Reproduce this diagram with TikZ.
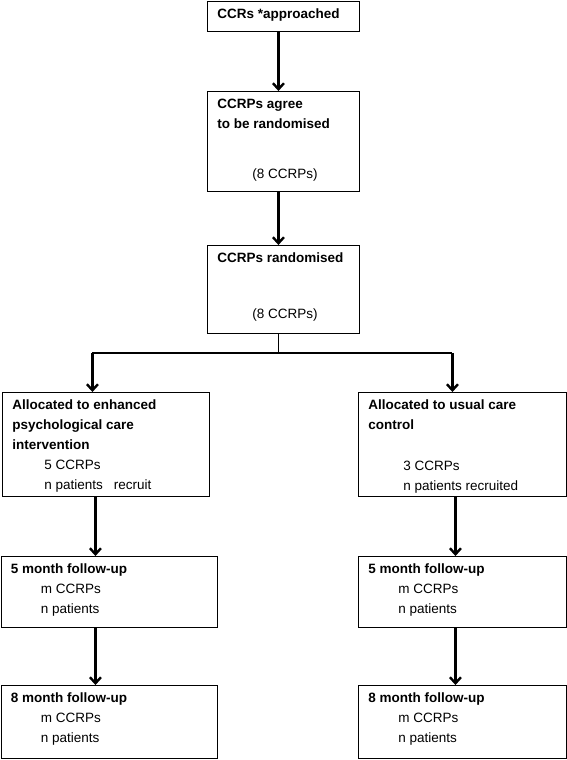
\documentclass[tikz,border=0pt]{standalone}
\usepackage{fontspec}
\setmainfont{Liberation Sans}
\usetikzlibrary{arrows.meta}
% box text: width, height, content (top aligned)
\newcommand{\boxtext}[3]{%
  \parbox[c][#2][t]{\dimexpr#1-20pt\relax}{\raggedright\rule{0pt}{17pt}#3}}
\tikzset{
  flowbox/.style={
    draw,
    line width=0.9pt,
    anchor=north west,
    inner xsep=10pt,
    inner ysep=0pt,
    font=\fontsize{13.5}{20}\selectfont
  },
  flowarrow/.style={-{Straight Barb[length=6pt,width=11pt]},line width=2.4pt},
  splitline/.style={line width=1.5pt},
}
\begin{document}
\begin{tikzpicture}[x=1pt,y=-1pt]
  \useasboundingbox (0,0) rectangle (567,760);
  % Upper column
  \node[flowbox] (appr) at (207,1) {\boxtext{152pt}{30pt}{\bfseries CCRs *approached}};
  \node[flowbox] (agree) at (207,91) {\boxtext{152pt}{100pt}{{\bfseries CCRPs agree\\to be randomised}\\[30pt]\hspace*{35pt}(8 CCRPs)}};
  \node[flowbox] (rand) at (207,245) {\boxtext{152pt}{88pt}{{\bfseries CCRPs randomised}\\[36pt]\hspace*{35pt}(8 CCRPs)}};
  \draw[flowarrow] ([xshift=-5pt]appr.south) -- ([xshift=-5pt]agree.north);
  \draw[flowarrow] ([xshift=-5pt]agree.south) -- ([xshift=-5pt]rand.north);

  % Allocation
  \node[flowbox] (interv) at (2,392) {\boxtext{207pt}{104pt}{{\bfseries Allocated to enhanced\\psychological care\\intervention}\\\hspace*{32pt}5 CCRPs\\\hspace*{32pt}n patients\hspace*{11pt}recruit}};
  \node[flowbox] (usual) at (358,392) {\boxtext{208pt}{104pt}{{\bfseries Allocated to usual care\\control}\\[21pt]\hspace*{35pt}3 CCRPs\\\hspace*{35pt}n patients recruited}};
  \draw[splitline] ([xshift=-5pt]rand.south) -- ++(0,19) coordinate (split);
  \coordinate (ltop) at ([xshift=-13.5pt]interv.north);
  \coordinate (rtop) at ([xshift=-10pt]usual.north);
  \coordinate (lsplit) at (ltop |- split);
  \coordinate (rsplit) at (rtop |- split);
  \draw[splitline] (lsplit) -- (rsplit);
  \draw[flowarrow] (lsplit) -- (ltop);
  \draw[flowarrow] (rsplit) -- (rtop);

  % Follow-up, left
  \node[flowbox] (lfive) at (0.5,556) {\boxtext{216.5pt}{71pt}{{\bfseries 5 month follow-up}\\\hspace*{30pt}m CCRPs\\\hspace*{30pt}n patients}};
  \node[flowbox] (leight) at (0.5,685) {\boxtext{216.5pt}{73pt}{{\bfseries 8 month follow-up}\\\hspace*{30pt}m CCRPs\\\hspace*{30pt}n patients}};
  \coordinate (lmid) at ([xshift=-10.5pt]interv.south);
  \coordinate (llow) at ([xshift=-13.75pt]lfive.south);
  \draw[flowarrow] (lmid) -- (lmid |- lfive.north);
  \draw[flowarrow] (llow) -- (llow |- leight.north);

  % Follow-up, right
  \node[flowbox] (rfive) at (358,556) {\boxtext{208pt}{71pt}{{\bfseries 5 month follow-up}\\\hspace*{30pt}m CCRPs\\\hspace*{30pt}n patients}};
  \node[flowbox] (reight) at (358,685) {\boxtext{208pt}{73pt}{{\bfseries 8 month follow-up}\\\hspace*{30pt}m CCRPs\\\hspace*{30pt}n patients}};
  \draw[flowarrow] ([xshift=-7pt]usual.south) -- ([xshift=-7pt]rfive.north);
  \draw[flowarrow] ([xshift=-7pt]rfive.south) -- ([xshift=-7pt]reight.north);
\end{tikzpicture}
\end{document}
